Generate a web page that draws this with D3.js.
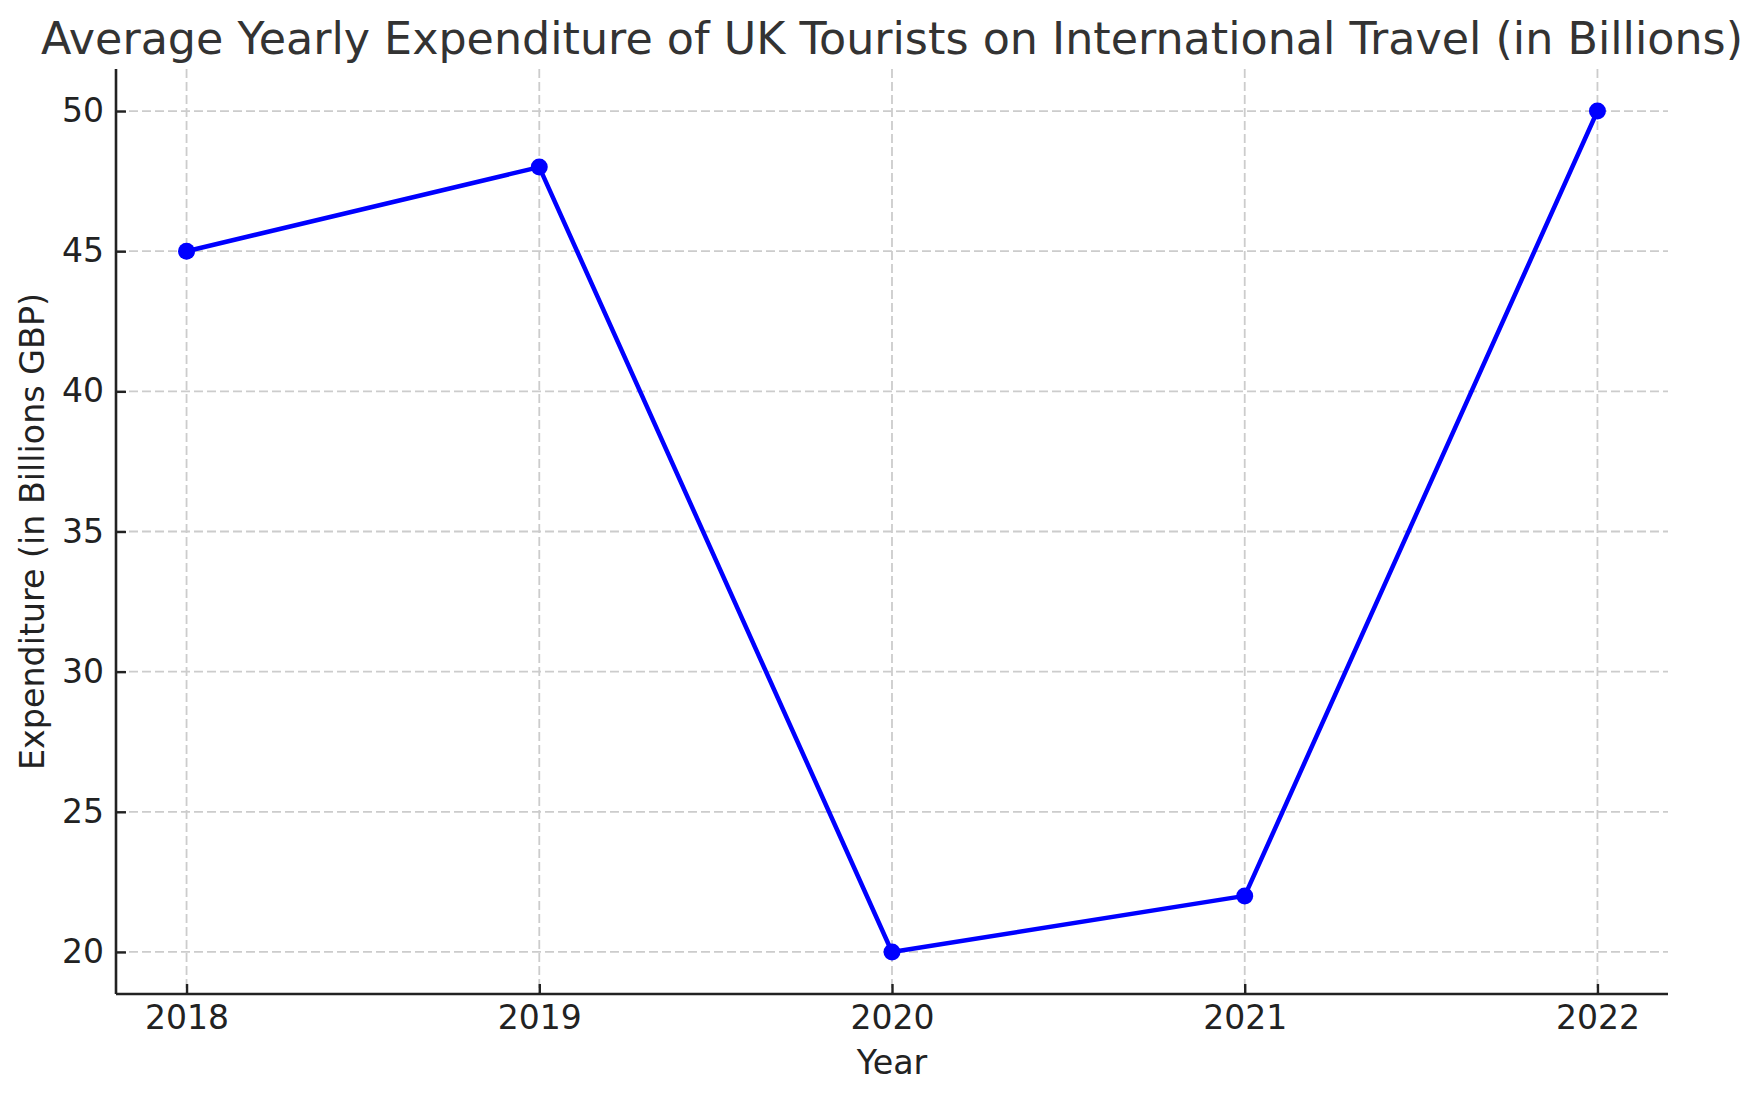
<!DOCTYPE html>
<html>
<head>
<meta charset="utf-8">
<script src="https://cdn.jsdelivr.net/npm/d3@7"></script>
<style>
  body { margin: 0; background: #fff; }
  svg { display: block; font-family: "DejaVu Sans", sans-serif; }
</style>
</head>
<body>
<svg id="chart" width="1764" height="1101"></svg>
<script>
// data
const years = [2018, 2019, 2020, 2021, 2022];
const expenditure = [45, 48, 20, 22, 50];
const yTicks = [20, 25, 30, 35, 40, 45, 50];

const width = 1764, height = 1101;
const margin = { top: 69, right: 96, bottom: 107, left: 116 };
const innerW = width - margin.left - margin.right;
const innerH = height - margin.top - margin.bottom;

const svg = d3.select("#chart");
const g = svg.append("g").attr("transform", `translate(${margin.left},${margin.top})`);

// matplotlib-style 5% margins
const x = d3.scaleLinear().domain([2017.8, 2022.2]).range([0, innerW]);
const y = d3.scaleLinear().domain([18.5, 51.5]).range([innerH, 0]);

// grid
g.append("g").selectAll("line").data(years).enter().append("line")
    .attr("x1", d => x(d)).attr("x2", d => x(d))
    .attr("y1", 0).attr("y2", innerH)
    .attr("stroke", "#cccccc").attr("stroke-width", 1.8).attr("stroke-dasharray", "9,4");
g.append("g").selectAll("line").data(yTicks).enter().append("line")
    .attr("x1", 0).attr("x2", innerW)
    .attr("y1", d => y(d)).attr("y2", d => y(d))
    .attr("stroke", "#cccccc").attr("stroke-width", 1.8).attr("stroke-dasharray", "9,4");

// axes (ticks pointing inward)
const xAxis = g.append("g").attr("transform", `translate(0,${innerH})`)
    .call(d3.axisBottom(x).tickValues(years).tickFormat(d3.format("d")).tickSize(-10).tickPadding(12));
const yAxis = g.append("g")
    .call(d3.axisLeft(y).tickValues(yTicks).tickSize(-10).tickPadding(12));

[xAxis, yAxis].forEach(ax => {
    ax.select(".domain").attr("stroke", "#222").attr("stroke-width", 2.6);
    ax.selectAll(".tick line").attr("stroke", "#222").attr("stroke-width", 2.4);
    ax.selectAll(".tick text").attr("fill", "#222").style("font-size", "33px")
      .style("font-family", "DejaVu Sans, sans-serif");
});
xAxis.select(".domain").attr("d", `M0,0H${innerW}`);
yAxis.select(".domain").attr("d", `M0,0V${innerH}`);

// line + markers
const points = years.map((yr, i) => ({ year: yr, value: expenditure[i] }));
const line = d3.line().x(d => x(d.year)).y(d => y(d.value));

g.append("path").datum(points)
    .attr("d", line)
    .attr("fill", "none")
    .attr("stroke", "#0000ff")
    .attr("stroke-width", 4.5)
    .attr("stroke-linejoin", "round");

g.selectAll(".dot").data(points).enter().append("circle")
    .attr("class", "dot")
    .attr("cx", d => x(d.year))
    .attr("cy", d => y(d.value))
    .attr("r", 8.5)
    .attr("fill", "#0000ff");

// title and labels
svg.append("text")
    .attr("x", margin.left + innerW / 2).attr("y", 54)
    .attr("text-anchor", "middle")
    .attr("fill", "#333")
    .style("font-size", "44.4px")
    .text("Average Yearly Expenditure of UK Tourists on International Travel (in Billions)");

svg.append("text")
    .attr("x", margin.left + innerW / 2).attr("y", 1074)
    .attr("text-anchor", "middle")
    .attr("fill", "#222")
    .style("font-size", "33.3px")
    .text("Year");

svg.append("text")
    .attr("transform", `translate(44,${margin.top + innerH / 2}) rotate(-90)`)
    .attr("text-anchor", "middle")
    .attr("fill", "#222")
    .style("font-size", "33.3px")
    .text("Expenditure (in Billions GBP)");
</script>
</body>
</html>
